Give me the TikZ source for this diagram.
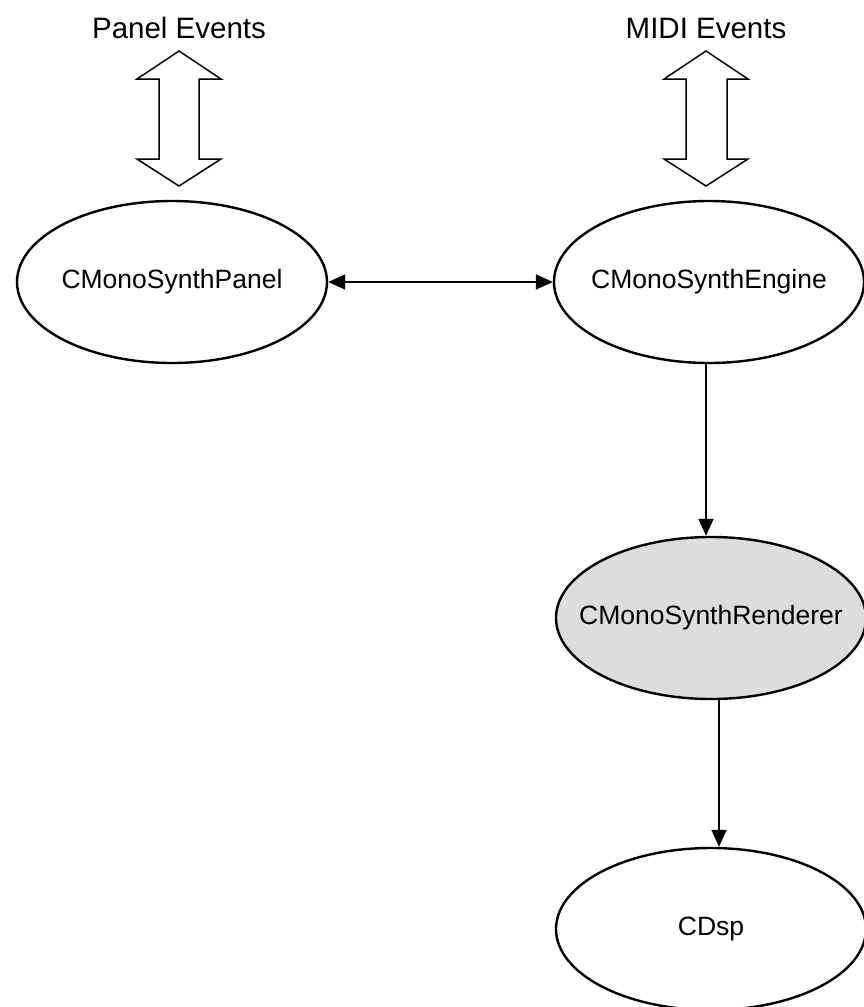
\documentclass[tikz,border=0pt]{standalone}
\usepackage{fontspec}
\setmainfont{Liberation Sans}
\usetikzlibrary{arrows.meta,shapes.geometric}
\definecolor{rendfill}{RGB}{221,221,221}
\newcommand{\cliplbl}[1]{\makebox[0pt]{#1}}
\begin{document}
\begin{tikzpicture}[x=1pt,y=-1pt,
  cls/.style={ellipse,draw,line width=2.4pt,minimum width=310pt,minimum height=162pt,inner sep=0pt,
    font=\fontsize{26.5}{31}\selectfont},
  ttl/.style={font=\fontsize{29.5}{34}\selectfont,inner sep=0pt},
  conn/.style={line width=1.6pt,-{Triangle[length=17pt,width=15pt]}},
  bigarrow/.style={draw,line width=1.5pt,fill=white,line join=miter}]
\useasboundingbox (0,0) rectangle (864,1007);
\node[ttl] (pe) at (179,28) {Panel Events};
\node[ttl] (me) at (706,28) {MIDI Events};
\node[cls] (pan) at (172,282) {\cliplbl{CMonoSynthPanel}};
\node[cls] (eng) at (709,282) {\cliplbl{CMonoSynthEngine}};
\node[cls,fill=rendfill] (ren) at (711,618) {\cliplbl{CMonoSynthRenderer}};
\node[cls] (dsp) at (711,929) {\cliplbl{CDsp}};
% big double arrows
\draw[bigarrow] (179,51) -- (221,79) -- (199,79) -- (199,159) -- (221,159) -- (179,186)
  -- (137,159) -- (159,159) -- (159,79) -- (137,79) -- cycle;
\draw[bigarrow] (706,51) -- (748,79) -- (727,79) -- (727,159) -- (748,159) -- (706,186)
  -- (664,159) -- (686,159) -- (686,79) -- (664,79) -- cycle;
% connectors
\draw[line width=1.6pt,{Triangle[length=17pt,width=15pt]}-{Triangle[length=17pt,width=15pt]}] (pan.east) -- (eng.west);
\draw[conn] ([xshift=-3pt]eng.south) -- ([xshift=-5pt]ren.north);
\draw[conn] ([xshift=8pt]ren.south) -- ([xshift=8pt]dsp.north);
\end{tikzpicture}
\end{document}
